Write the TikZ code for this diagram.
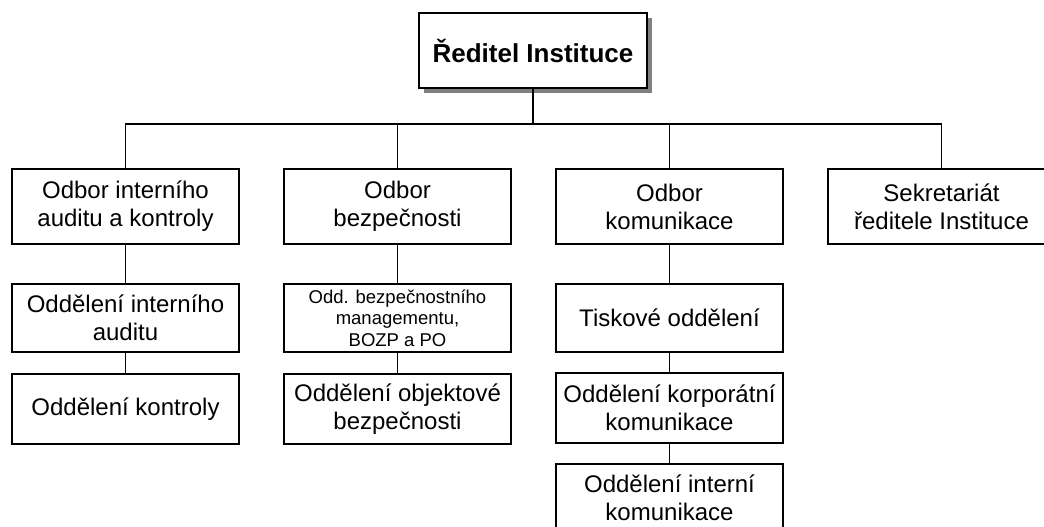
\documentclass[tikz,border=0pt]{standalone}
\usepackage{fontspec}
\setmainfont{Liberation Sans}
\usetikzlibrary{shadows}
\tikzset{
  orgbox/.style={draw=black, line width=1.8pt, fill=white, rectangle, align=center,
    minimum width=227pt, inner sep=2pt, font=\fontsize{24}{28}\selectfont},
  topbox/.style={orgbox, minimum width=228pt, minimum height=75pt,
    font=\fontsize{26}{30}\selectfont\bfseries,
    drop shadow={shadow xshift=5pt, shadow yshift=-5pt, fill=black!50, opacity=1}},
  link/.style={draw=black, line width=1.6pt}
}
\begin{document}
\begin{tikzpicture}[x=1pt,y=-1pt]
\clip (0,0) rectangle (1044,527);
\fill[white] (0,0) rectangle (1044,527);
\node[topbox] (top) at (533,50.5) {Ředitel Instituce};

\node[orgbox, minimum height=75pt] (a1) at (125.5,206.5) {Odbor interního\\auditu a kontroly};
\node[orgbox, minimum height=75pt] (a2) at (397.5,206.5) {Odbor\\bezpečnosti};
\node[orgbox, minimum height=75pt] (a3) at (669.5,206.5) {Odbor\\komunikace};
\node[orgbox, minimum height=75pt] (a4) at (941.5,206.5) {Sekretariát\\ředitele Instituce};

\node[orgbox, minimum height=68pt] (b1) at (125.5,318) {Oddělení interního\\auditu};
\node[orgbox, minimum height=68pt, font=\fontsize{18.5}{21.5}\selectfont] (b2) at (397.5,318) {Odd. bezpečnostního\\managementu,\\BOZP a PO};
\node[orgbox, minimum height=68pt] (b3) at (669.5,318) {Tiskové oddělení};

\node[orgbox, minimum height=70pt] (c1) at (125.5,409) {Oddělení kontroly};
\node[orgbox, minimum height=70pt] (c2) at (397.5,409) {Oddělení objektové\\bezpečnosti};
\node[orgbox, minimum height=70pt] (c3) at (669.5,408) {Oddělení korporátní\\komunikace};

\node[orgbox, minimum height=68pt] (d3) at (669.5,498) {Oddělení interní\\komunikace};

\coordinate (bus) at (533,124);
\draw[link] (top.south) -- (bus);
\draw[link] (a1.north) |- (bus) -| (a4.north);
\draw[link] (a2.north) -- (a2.north |- bus);
\draw[link] (a3.north) -- (a3.north |- bus);

\draw[link] (a1.south) -- (b1.north);
\draw[link] (b1.south) -- (c1.north);
\draw[link] (a2.south) -- (b2.north);
\draw[link] (b2.south) -- (c2.north);
\draw[link] (a3.south) -- (b3.north);
\draw[link] (b3.south) -- (c3.north);
\draw[link] (c3.south) -- (d3.north);
\end{tikzpicture}
\end{document}
